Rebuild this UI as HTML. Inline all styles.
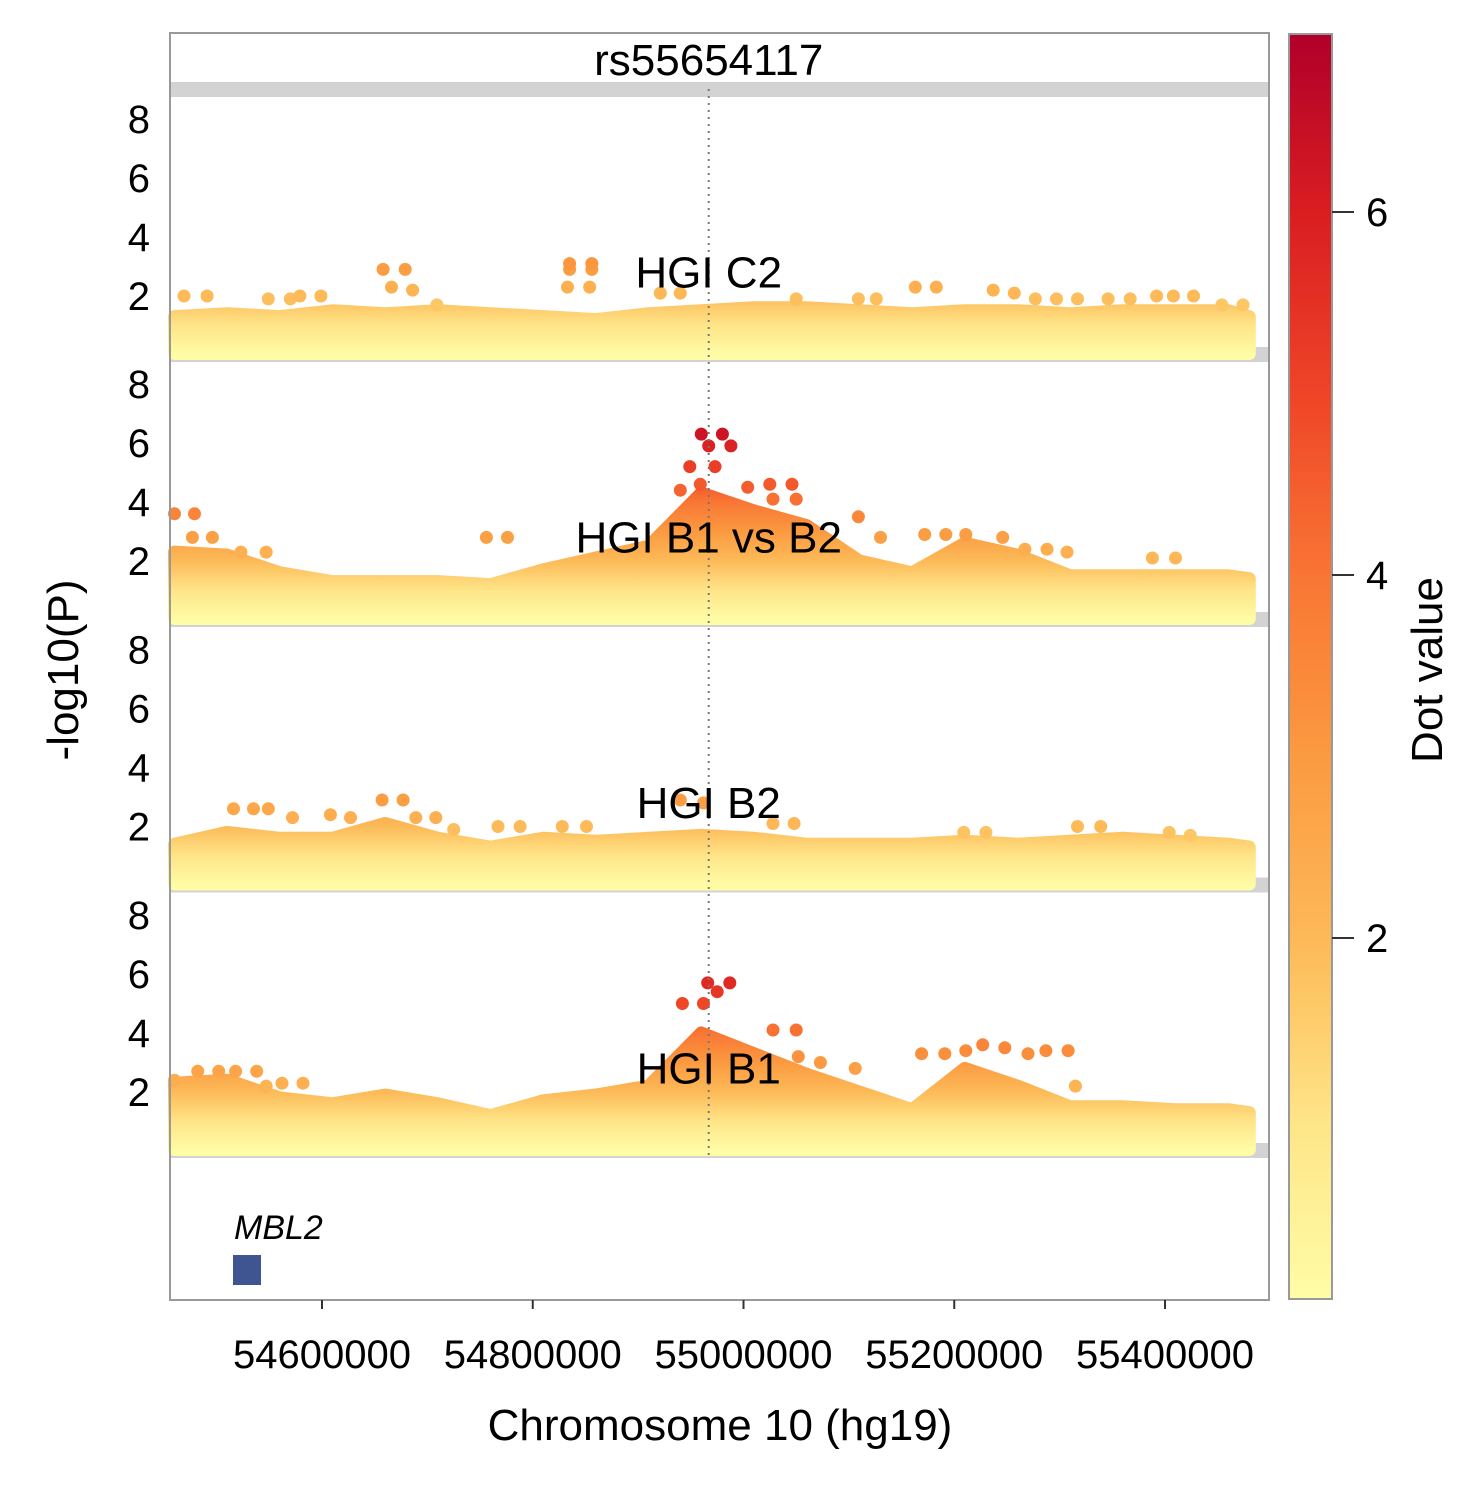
<!DOCTYPE html>
<html><head><meta charset="utf-8"><style>
body{margin:0;background:#fff}
svg text{font-family:"Liberation Sans",Arial,sans-serif;fill:#000}
</style></head><body>
<svg id="chart" width="1484" height="1484" xmlns="http://www.w3.org/2000/svg">
<defs>
<linearGradient id="cbar" x1="0" y1="1" x2="0" y2="0">
<stop offset="0" stop-color="#FFFCA6"/><stop offset="0.14" stop-color="#FEE588"/><stop offset="0.28" stop-color="#FDBA58"/>
<stop offset="0.43" stop-color="#FB9A40"/><stop offset="0.57" stop-color="#F97634"/><stop offset="0.71" stop-color="#EF4628"/>
<stop offset="0.86" stop-color="#D91D21"/><stop offset="1" stop-color="#B0002A"/></linearGradient>
</defs>
</svg>
<script>
// ---- data ----
const panelNames = ["HGI C2","HGI B1 vs B2","HGI B2","HGI B1"];
const binPos = [54.46,54.51,54.56,54.61,54.66,54.71,54.76,54.81,54.86,54.91,54.96,55.01,55.06,55.11,55.16,55.21,55.26,55.31,55.36,55.41,55.46,55.48];
const envC2   = [1.3,1.4,1.3,1.5,1.4,1.5,1.4,1.3,1.2,1.4,1.5,1.6,1.6,1.5,1.4,1.5,1.5,1.4,1.5,1.5,1.5,1.3];
const envB1B2 = [2.3,2.2,1.6,1.3,1.3,1.3,1.2,1.7,2.1,2.5,4.3,3.7,3.2,2.0,1.6,2.6,2.2,1.5,1.5,1.5,1.5,1.4];
const envB2   = [1.4,1.8,1.6,1.6,2.1,1.6,1.3,1.6,1.5,1.6,1.7,1.6,1.4,1.4,1.4,1.5,1.4,1.5,1.6,1.5,1.4,1.3];
const envB1   = [2.3,2.4,1.8,1.6,1.9,1.6,1.2,1.7,1.9,2.2,4.0,3.3,2.6,2.0,1.4,2.8,2.2,1.5,1.5,1.4,1.4,1.3];
const posC2 = [54.469,54.491,54.549,54.570,54.579,54.599,54.658,54.679,54.666,54.686,54.709,54.835,54.835,54.856,54.856,54.833,54.854,54.921,54.940,55.050,55.109,55.126,55.163,55.183,55.237,55.257,55.277,55.297,55.317,55.346,55.367,55.392,55.408,55.427,55.454,55.474];
const valC2 = [2.0,2.0,1.9,1.9,2.0,2.0,2.9,2.9,2.3,2.2,1.7,3.1,2.9,3.1,2.9,2.3,2.3,2.1,2.1,1.9,1.9,1.9,2.3,2.3,2.2,2.1,1.9,1.9,1.9,1.9,1.9,2.0,2.0,2.0,1.7,1.7];
const posB1B2 = [54.460,54.479,54.477,54.496,54.523,54.547,54.756,54.776,54.960,54.980,54.967,54.988,54.949,54.973,55.004,55.025,55.046,55.050,55.028,55.109,55.130,55.172,55.192,55.211,55.246,55.267,55.288,55.307,55.388,55.410,54.959,54.940];
const valB1B2 = [3.6,3.6,2.8,2.8,2.3,2.3,2.8,2.8,6.3,6.3,5.9,5.9,5.2,5.2,4.5,4.6,4.6,4.1,4.1,3.5,2.8,2.9,2.9,2.9,2.8,2.4,2.4,2.3,2.1,2.1,4.6,4.4];
const posB2 = [54.516,54.535,54.549,54.657,54.677,54.572,54.608,54.627,54.689,54.708,54.725,54.767,54.788,54.828,54.851,54.940,54.962,55.028,55.048,55.209,55.230,55.317,55.339,55.404,55.424];
const valB2 = [2.6,2.6,2.6,2.9,2.9,2.3,2.4,2.3,2.3,2.3,1.9,2.0,2.0,2.0,2.0,2.9,2.8,2.1,2.1,1.8,1.8,2.0,2.0,1.8,1.7];
const posB1 = [54.460,54.482,54.502,54.518,54.538,54.547,54.562,54.582,54.966,54.987,54.975,54.942,54.962,55.028,55.050,55.169,55.191,55.211,55.227,55.248,55.270,55.287,55.308,55.315,55.052,55.073,55.106];
const valB1 = [2.4,2.7,2.7,2.7,2.7,2.2,2.3,2.3,5.7,5.7,5.4,5.0,5.0,4.1,4.1,3.3,3.3,3.4,3.6,3.5,3.3,3.4,3.4,2.2,3.2,3.0,2.8];
const xTicks = [54600000,54800000,55000000,55200000,55400000];
const yTicks = [2,4,6,8];
const cbTicks = [2,4,6];
const leadSnp = 54.967;

// ---- scales ----
const svg = document.getElementById('chart');
const NS = 'http://www.w3.org/2000/svg';
const L=170,R=1269,T=33,B=1300;
const xS = mb => 322 + (mb-54.6)*210.75/0.2;
const panelZero = [355,620,885.5,1151];
const yS = (p,v) => panelZero[p] - v*29.5;
const cbY = v => 1301 - v*181.5;
const stops=[[0,[255,252,166]],[1,[254,229,136]],[2,[253,186,88]],[3,[251,154,64]],[4,[249,118,52]],[5,[239,70,40]],[6,[217,29,33]],[7,[176,0,42]]];
function col(v){v=Math.max(0,Math.min(7,v));const i=Math.min(6,Math.floor(v));const f=v-i;const a=stops[i][1],b=stops[i+1][1];
return 'rgb('+a.map((c,k)=>Math.round(c+(b[k]-c)*f)).join(',')+')';}
function mk(tag,attrs,parent){const e=document.createElementNS(NS,tag);for(const k in attrs)e.setAttribute(k,attrs[k]);(parent||svg).appendChild(e);return e;}

const envs=[envC2,envB1B2,envB2,envB1];
const pos=[posC2,posB1B2,posB2,posB1];
const vals=[valC2,valB1B2,valB2,valB1];
const defs=svg.querySelector('defs');

let e=mk('rect',{x:L,y:82,width:R-L,height:15,fill:'#D3D3D3'});



for(let p=0;p<4;p++){
  const g=mk('g',{});
  
  
  const z=panelZero[p];
  let bar=mk('rect',{x:L,y:z-8,width:R-L,height:15,fill:'#D3D3D3'},g);
  
  
  const gr=mk('linearGradient',{id:'pg'+p,gradientUnits:'userSpaceOnUse',x1:0,y1:yS(p,0),x2:0,y2:yS(p,7)},defs);
  stops.forEach(s=>mk('stop',{offset:s[0]/7,'stop-color':'rgb('+s[1].join(',')+')'},gr));
  const env=envs[p];
  let d='M'+xS(binPos[0])+','+yS(p,0.05);
  binPos.forEach((b,i)=>{d+=' L'+xS(b).toFixed(1)+','+yS(p,env[i]).toFixed(1);});
  d+=' L'+xS(binPos[binPos.length-1])+','+yS(p,0.05)+' Z';
  const band=mk('path',{d:d,fill:'url(#pg'+p+')',stroke:'url(#pg'+p+')','stroke-width':13,'stroke-linejoin':'round'},g);
  
  
  const order=vals[p].map((v,i)=>i).sort((a,b)=>vals[p][a]-vals[p][b]);
  order.forEach(i=>{
    const c=mk('circle',{cx:xS(pos[p][i]).toFixed(1),cy:yS(p,vals[p][i]).toFixed(1),r:6.5,fill:col(vals[p][i])},g);
    
    
  });
  yTicks.forEach(t=>{
    const tx=mk('text',{x:150,y:yS(p,t)+14,'font-size':40,'text-anchor':'end'});tx.textContent=t;
    
    
  });
}
e=mk('line',{x1:xS(leadSnp),x2:xS(leadSnp),y1:89,y2:1155,stroke:'#777','stroke-width':2,'stroke-dasharray':'2,5'});


panelNames.forEach((n,p)=>{
  const t=mk('text',{x:xS(leadSnp),y:yS(p,2.8)+15,'font-size':44,'text-anchor':'middle'});t.textContent=n;
  
  
});
e=mk('text',{x:xS(leadSnp),y:75,'font-size':44,'text-anchor':'middle'});e.textContent='rs55654117';


e=mk('text',{x:234,y:1239,'font-size':34,'font-style':'italic'});e.textContent='MBL2';


e=mk('rect',{x:233,y:1255,width:28,height:30,fill:'#3F5592'});


e=mk('rect',{x:L,y:T,width:R-L,height:B-T,fill:'none',stroke:'#999','stroke-width':2});


xTicks.forEach(t=>{
  const x=xS(t/1e6);
  const l=mk('line',{x1:x,x2:x,y1:B,y2:B+9,stroke:'#333','stroke-width':2});
  
  
  const tx=mk('text',{x:x,y:1368,'font-size':40,'text-anchor':'middle'});tx.textContent=t;
  
  
});
e=mk('text',{x:720,y:1440,'font-size':44,'text-anchor':'middle'});e.textContent='Chromosome 10 (hg19)';


e=mk('text',{x:0,y:0,'font-size':44,'text-anchor':'middle',transform:'translate(78,670) rotate(-90)'});e.textContent='-log10(P)';


e=mk('rect',{x:1289,y:34,width:43,height:1265,fill:'url(#cbar)',stroke:'#999','stroke-width':2});


cbTicks.forEach(t=>{
  const l=mk('line',{x1:1332,x2:1354,y1:cbY(t),y2:cbY(t),stroke:'#333','stroke-width':2});
  
  
  const tx=mk('text',{x:1366,y:cbY(t)+14,'font-size':40});tx.textContent=t;
  
  
});
e=mk('text',{x:0,y:0,'font-size':44,'text-anchor':'middle',transform:'translate(1442,670) rotate(-90)'});e.textContent='Dot value';


</script>
</body></html>
